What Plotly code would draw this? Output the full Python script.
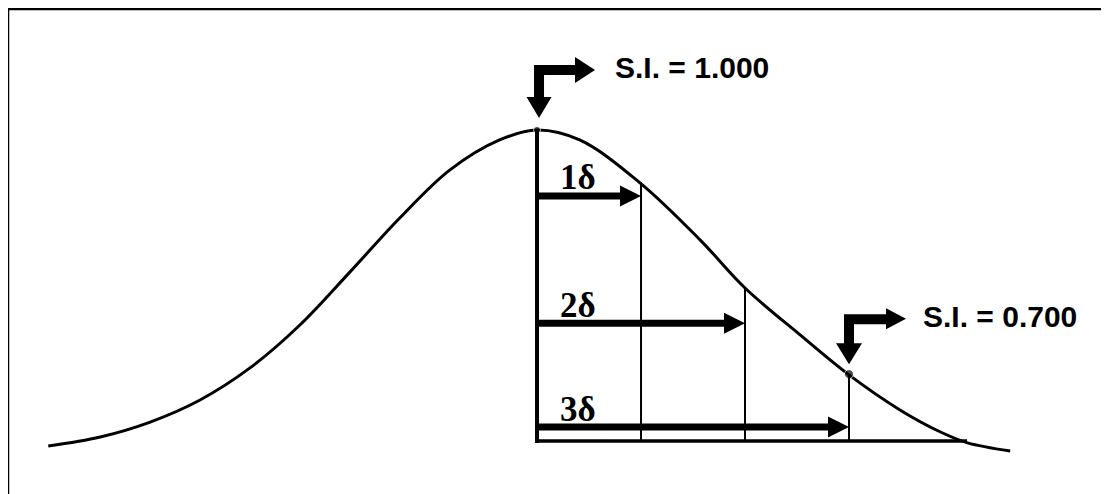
import plotly.graph_objects as go

# Bell curve: x in sigma units from the mean, y relative height (peak = 1)
curve_u = [-4.70, -4.20, -3.72, -3.24, -2.76, -2.28, -1.80, -1.32, -0.84, -0.36, 0.0,
           0.41, 0.99, 1.57, 2.0, 2.53, 2.99, 3.49, 3.88, 4.14, 4.55]
curve_h = [-0.016, 0.013, 0.061, 0.132, 0.235, 0.373, 0.543, 0.717, 0.871, 0.968, 1.0,
           0.968, 0.830, 0.646, 0.492, 0.341, 0.215, 0.100, 0.029, -0.006, -0.032]

# sigma steps, where their verticals meet the curve, and the height of each arrow
sigma_steps = [1, 2, 3]
sigma_top = [0.830, 0.492, 0.215]
arrow_h = [0.788, 0.379, 0.045]
sigma_labels = ["1δ", "2δ", "3δ"]

# the two marked points
si_u = [0, 3]
si_h = [1.0, 0.215]
si_labels = ["S.I. = 1.000", "S.I. = 0.700"]

baseline_end = 4.135

fig = go.Figure()

fig.add_trace(go.Scatter(
    x=curve_u, y=curve_h, mode="lines",
    line=dict(color="black", width=3, shape="spline", smoothing=1.0),
    hoverinfo="skip"
))

fig.add_trace(go.Scatter(
    x=si_u, y=si_h, mode="markers",
    marker=dict(color="black", size=[7, 9]),
    hoverinfo="skip"
))

shapes = []
annotations = []

# baseline and the thick vertical at the mean
shapes.append(dict(type="line", x0=0, x1=baseline_end, y0=0, y1=0,
                   line=dict(color="black", width=3.5)))
shapes.append(dict(type="line", x0=0, x1=0, y0=-0.006, y1=si_h[0],
                   line=dict(color="black", width=4)))

for k, top, ah, lab in zip(sigma_steps, sigma_top, arrow_h, sigma_labels):
    # thin vertical from baseline to the curve
    shapes.append(dict(type="line", x0=k, x1=k, y0=0, y1=top,
                       line=dict(color="black", width=2)))
    # arrow shaft
    shapes.append(dict(type="line", x0=0, x1=k - 0.12, y0=ah, y1=ah,
                       line=dict(color="black", width=7)))
    # arrow head, in pixels around the tip
    shapes.append(dict(type="path", xsizemode="pixel", ysizemode="pixel",
                       xanchor=k, yanchor=ah,
                       path="M0,0 L-21,10.5 L-21,-10.5 Z",
                       fillcolor="black", line=dict(width=0)))
    annotations.append(dict(x=0, y=ah, text="<b>%s</b>" % lab, showarrow=False,
                            xanchor="left", yanchor="middle", xshift=21, yshift=18,
                            font=dict(family="Liberation Serif, Times New Roman, serif",
                                      size=35, color="black")))

# L-shaped pointer arrows (pixel offsets from the marked point, y up)
pointer_paths = [
    "M2,12 L14.5,33 L7,33 L7,55 L38,55 L38,47 L58,60 L38,73 L38,65 L-3,65 L-3,33 L-10.5,33 Z",
    "M0,10 L13,31 L5,31 L5,50 L37,50 L37,45 L57,55.5 L37,66 L37,60 L-5,60 L-5,31 L-13,31 Z",
]
label_shift = [(76, 62), (72, 58)]

for u, h, lab, p, (dx, dy) in zip(si_u, si_h, si_labels, pointer_paths, label_shift):
    shapes.append(dict(type="path", xsizemode="pixel", ysizemode="pixel",
                       xanchor=u, yanchor=h, path=p,
                       fillcolor="black", line=dict(width=0)))
    annotations.append(dict(x=u, y=h, text="<b>%s</b>" % lab, showarrow=False,
                            xanchor="left", yanchor="middle", xshift=dx, yshift=dy,
                            font=dict(family="Liberation Sans, Arial, sans-serif",
                                      size=30, color="black")))

# frame (top and left edges are the only ones inside the picture);
# the page body adds an 8px offset, so the frame sits at the figure edge
shapes.append(dict(type="line", xref="paper", yref="paper",
                   x0=0, x1=1, y0=1 - 1 / 494, y1=1 - 1 / 494,
                   line=dict(color="black", width=2.5)))
shapes.append(dict(type="line", xref="paper", yref="paper",
                   x0=0, x1=0, y0=0, y1=1,
                   line=dict(color="black", width=2.5)))

fig.update_layout(
    width=1109, height=494,
    margin=dict(l=0, r=0, t=0, b=0),
    paper_bgcolor="white", plot_bgcolor="white",
    showlegend=False,
    xaxis=dict(range=[-5.087, 5.577], visible=False),
    yaxis=dict(range=[-0.196, 1.392], visible=False),
    shapes=shapes,
    annotations=annotations
)

fig.write_html("out.html")
